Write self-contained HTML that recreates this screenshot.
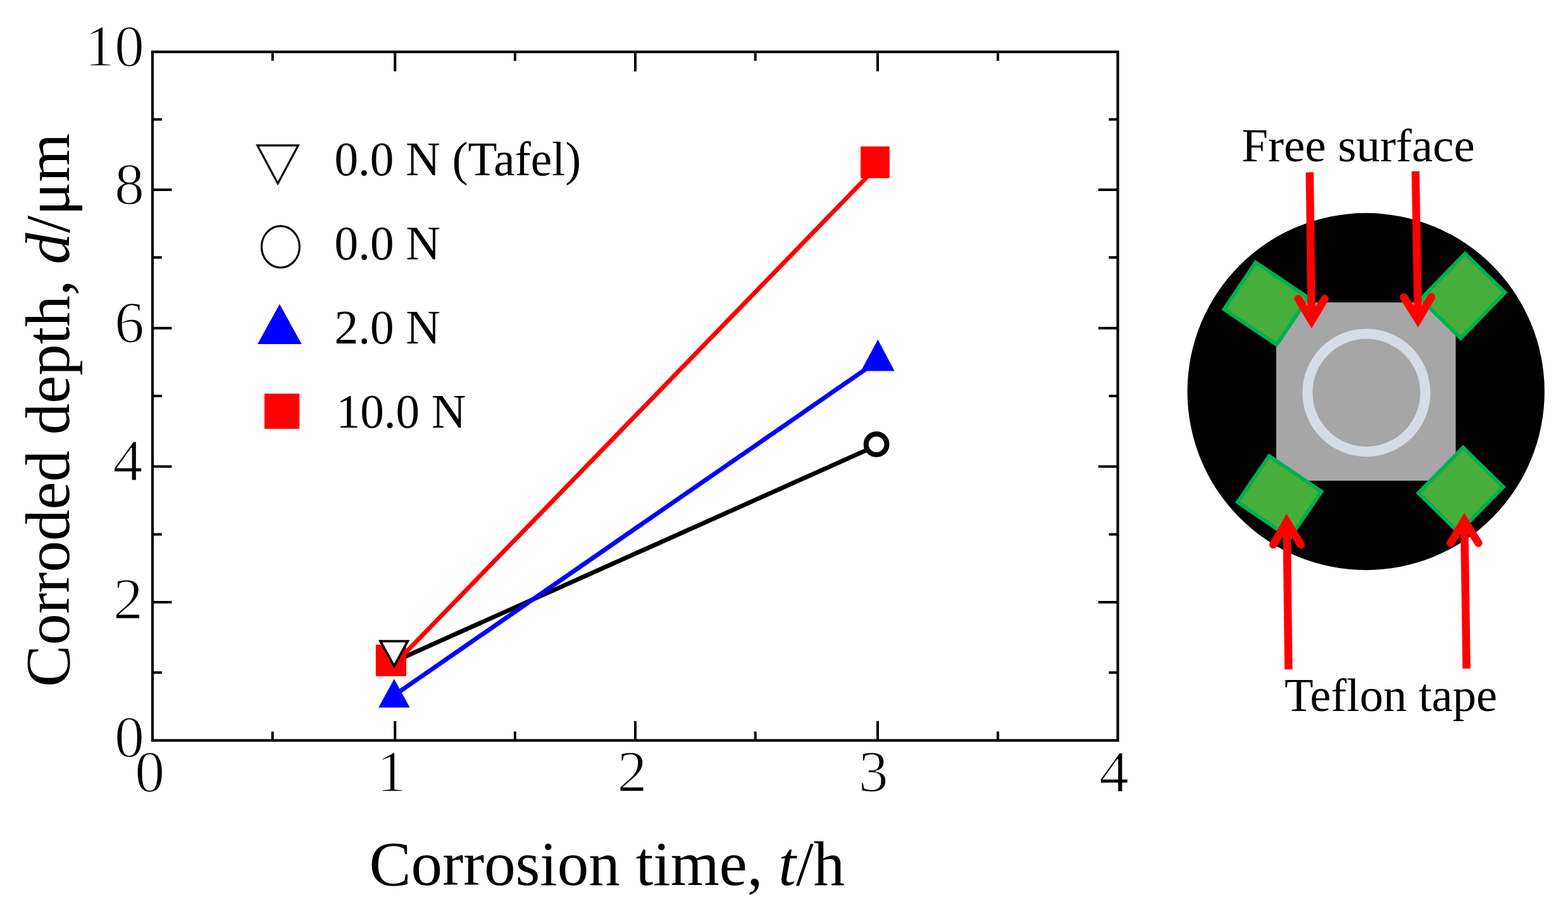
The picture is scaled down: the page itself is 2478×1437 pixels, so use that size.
<!DOCTYPE html>
<html>
<head>
<meta charset="utf-8">
<style>
html,body{margin:0;padding:0;background:#fff;}
body{width:2478px;height:1437px;overflow:hidden;}
svg{display:block;}
text{font-family:"Liberation Serif","Times New Roman",serif;fill:#000;}
</style>
</head>
<body>
<svg width="2478" height="1437" viewBox="0 0 2478 1437" xmlns="http://www.w3.org/2000/svg">
<rect x="0" y="0" width="2478" height="1437" fill="#fff"/>

<!-- ===== Plot frame ===== -->
<g fill="none" stroke="#000" stroke-width="4.2">
  <rect x="241" y="82" width="1525.5" height="1088.5"/>
</g>
<!-- ticks -->
<g stroke="#000" stroke-width="4" fill="none">
  <!-- top: major x=1,2,3 ; minor 0.5,1.5,2.5,3.5 -->
  <path d="M624.3 82V112.7 M1004 82V112.7 M1387 82V112.7
           M430.8 82V96.3 M813.9 82V96.3 M1193.7 82V96.3 M1577 82V96.3"/>
  <!-- bottom -->
  <path d="M624.3 1170.5V1140.1 M1004 1170.5V1140.1 M1387 1170.5V1140.1
           M430.7 1170.5V1156.4 M813.9 1170.5V1156.4 M1193.7 1170.5V1156.4 M1577 1170.5V1156.4"/>
  <!-- left: major 2,4,6,8 ; minor 1,3,5,7,9 -->
  <path d="M241 300H271.4 M241 518.7H271.4 M241 737.4H271.4 M241 951.9H271.4
           M241 188.8H255.8 M241 406.9H255.8 M241 626H255.8 M241 844.7H255.8 M241 1063.2H255.8"/>
  <!-- right -->
  <path d="M1766.3 300H1735.7 M1766.3 518.7H1735.7 M1766.3 737.4H1735.7 M1766.3 951.9H1735.7
           M1766.3 188.8H1752.4 M1766.3 406.9H1752.4 M1766.3 626H1752.4 M1766.3 844.7H1752.4 M1766.3 1063.2H1752.4"/>
</g>

<!-- y tick labels -->
<g font-size="94" text-anchor="end" stroke="#fff" stroke-width="1.6">
  <text x="228" y="103.5">10</text>
  <text x="228" y="322">8</text>
  <text x="228" y="540.5">6</text>
  <text x="225.5" y="759.2">4</text>
  <text x="226" y="978.3">2</text>
  <text x="228" y="1196.3">0</text>
</g>
<!-- x tick labels -->
<g font-size="94" text-anchor="middle" stroke="#fff" stroke-width="1.6">
  <text x="236.8" y="1250.8">0</text>
  <text x="618.8" y="1251">1</text>
  <text x="998.9" y="1250.6">2</text>
  <text x="1380.3" y="1250.6">3</text>
  <text x="1760.5" y="1250.9">4</text>
</g>

<!-- axis titles -->
<text x="583.5" y="1398.5" font-size="99.1">Corrosion time, <tspan font-style="italic">t</tspan>/h</text>
<text transform="translate(109 1085.9) rotate(-90)" font-size="99">Corroded depth, <tspan font-style="italic">d</tspan>/μm</text>


<!-- ===== Data lines ===== -->
<g fill="none" stroke-width="7" stroke-linecap="butt">
  <path d="M622 1046.2L1372 710.4" stroke="#000"/>
  <path d="M623 1099.1L1371 581.7" stroke="#0000ff"/>
  <path d="M618 1055.3L1371 278.9" stroke="#ff0000"/>
</g>
<!-- markers -->
<rect x="593.9" y="1019.2" width="48.2" height="49.8" fill="#ff0000"/>
<path d="M601.1 1013.6H644.3L622.9 1052.9Z" fill="#fff" stroke="#000" stroke-width="3.8" stroke-linejoin="miter"/>
<path d="M622.9 1073.3L647.7 1118.6H598.2Z" fill="#0000ff"/>
<rect x="1360.1" y="231.5" width="45.7" height="50.1" fill="#ff0000"/>
<path d="M1387.3 536.8L1413.7 586.6H1360.6Z" fill="#0000ff"/>
<circle cx="1385.1" cy="702.4" r="16.4" fill="#fff" stroke="#000" stroke-width="8"/>

<!-- ===== Legend ===== -->
<path d="M406.8 229.9H471.3L439.05 290.2Z" fill="#fff" stroke="#000" stroke-width="3.2"/>
<ellipse cx="443.4" cy="390.2" rx="30" ry="32.8" fill="#fff" stroke="#000" stroke-width="3.2"/>
<path d="M441.9 480.7L476.7 543.9H407Z" fill="#0000ff"/>
<rect x="417.9" y="622.3" width="55.3" height="55.6" fill="#ff0000"/>
<g font-size="75.3">
  <text x="528.4" y="277">0.0 N (Tafel)</text>
  <text x="528.6" y="410">0.0 N</text>
  <text x="528.6" y="542.6">2.0 N</text>
  <text x="531.5" y="675.5">10.0 N</text>
</g>

<!-- ===== Right diagram ===== -->
<circle cx="2158.7" cy="619" r="282.2" fill="#000"/>
<rect x="2016.8" y="478.1" width="283.8" height="281.8" fill="#a6a6a6"/>
<circle cx="2159.4" cy="620.8" r="93.1" fill="none" stroke="#d6dce5" stroke-width="16"/>
<g fill="#47ae3c" stroke="#00b050" stroke-width="6">
  <rect x="-50.00" y="-44.65" width="100.00" height="89.30" transform="translate(2001.00 479.80) rotate(33.90)"/>
  <rect x="-50.20" y="-44.05" width="100.40" height="88.10" transform="translate(2311.90 467.70) rotate(-45.80)"/>
  <rect x="-49.95" y="-44.25" width="99.90" height="88.50" transform="translate(2022.15 785.50) rotate(34.30)"/>
  <rect x="-50.35" y="-44.50" width="100.70" height="89.00" transform="translate(2308.70 774.60) rotate(-45.60)"/>
</g>
<g fill="none" stroke="#ff0000" stroke-width="12.5">
  <path d="M2069.8 272.3L2072.8 507" stroke-linecap="butt"/>
  <path d="M2051.7 472.3L2072.8 506.9L2093.5 472.3" stroke-linecap="round" stroke-linejoin="miter" stroke-miterlimit="10"/>
  <path d="M2237 270.7L2241 505.5" stroke-linecap="butt"/>
  <path d="M2218.5 469.8L2241 505.5L2262 469.5" stroke-linecap="round" stroke-linejoin="miter" stroke-miterlimit="10"/>
  <path d="M2036.3 1058.3L2033.5 824.5" stroke-linecap="butt"/>
  <path d="M2012.3 861L2033.4 824.5L2055.7 861" stroke-linecap="round" stroke-linejoin="miter" stroke-miterlimit="10"/>
  <path d="M2317.6 1057L2314.2 822.8" stroke-linecap="butt"/>
  <path d="M2292.5 858.5L2314.2 822.8L2336.4 858.5" stroke-linecap="round" stroke-linejoin="miter" stroke-miterlimit="10"/>
</g>
<text x="1962.3" y="254.6" font-size="75">Free surface</text>
<text x="2029.9" y="1124.2" font-size="74.5">Teflon tape</text>

</svg>
</body>
</html>
